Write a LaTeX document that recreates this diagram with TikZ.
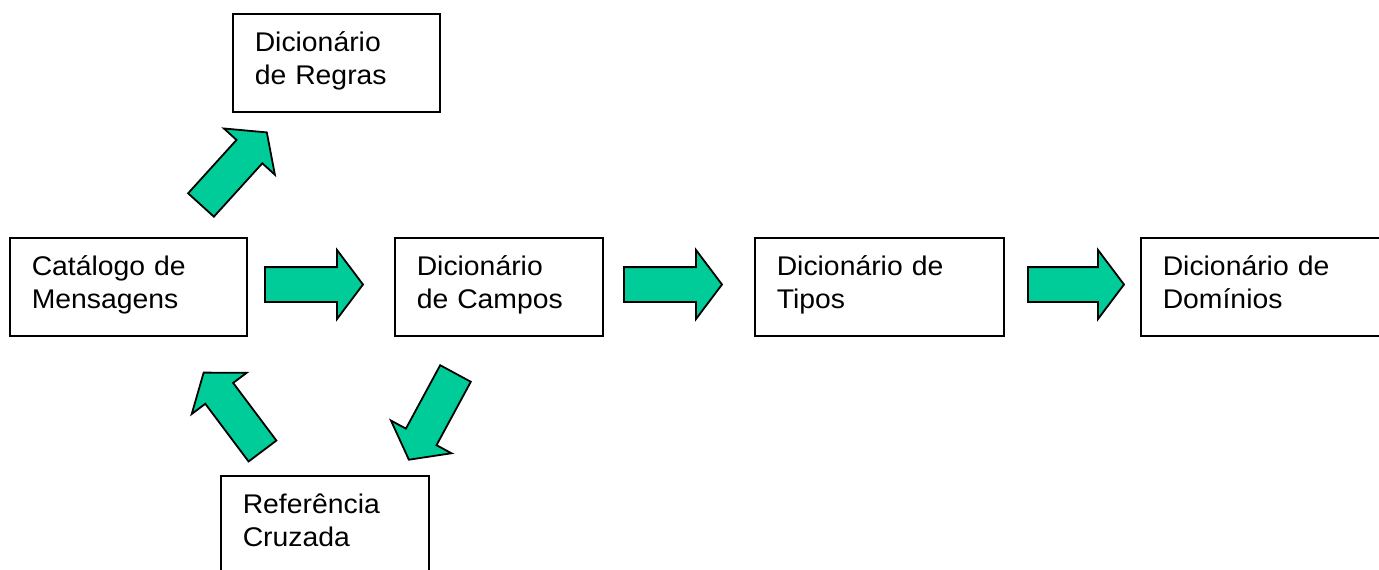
\documentclass[tikz,border=0pt]{standalone}
\usepackage{fontspec}
\setmainfont[FakeStretch=1.05]{Liberation Sans}
\usetikzlibrary{shapes.arrows}
\definecolor{verdeseta}{RGB}{0,204,153}

\begin{document}
\begin{tikzpicture}[x=1pt, y=-1pt,
	caixa/.style={draw, line width=1.5pt, anchor=north west, minimum height=98pt, inner xsep=22pt, inner ysep=0pt, text height=20pt, text depth=42pt, align=left, font=\fontsize{27}{33}\selectfont},
	seta/.style={single arrow, draw, line width=1.8pt, fill=verdeseta, anchor=tail, minimum height=98pt, single arrow head extend=17pt, single arrow tip angle=106, single arrow head indent=0pt, inner xsep=0pt, inner ysep=16.5pt, outer sep=0pt}]
		%%%%% START %%%%%
		
		\clip (0, 0) rectangle (1379, 570);
		
		\node[caixa, text width=163pt] (regras) at (232, 13) {Dicionário\\de Regras};
		\node[caixa, text width=193pt] (catalogo) at (9, 237) {Catálogo de\\Mensagens};
		\node[caixa, text width=164pt] (campos) at (394, 237) {Dicionário\\de Campos};
		\node[caixa, text width=205pt] (tipos) at (754, 237) {Dicionário de\\Tipos};
		\node[caixa, text width=196pt] (dominios) at (1140, 237) {Dicionário de\\Domínios};
		\node[caixa, text width=164pt] (referencia) at (220, 475) {Referência\\Cruzada};
		
		\node[seta] (setaCampos) at (265, 284.5) {};
		\node[seta] (setaTipos) at (624, 284.5) {};
		\node[seta, minimum height=96pt] (setaDominios) at (1028, 284.5) {};
		
		\node[seta, rotate=47.8] (setaRegras) at (201, 205) {};
		\node[seta, rotate=241.6] (setaReferencia) at (455.5, 373.5) {};
		\node[seta, rotate=126.9] (setaCatalogo) at (262.5, 451) {};
		
		%%%%% END %%%%%
	\end{tikzpicture}
\end{document}
